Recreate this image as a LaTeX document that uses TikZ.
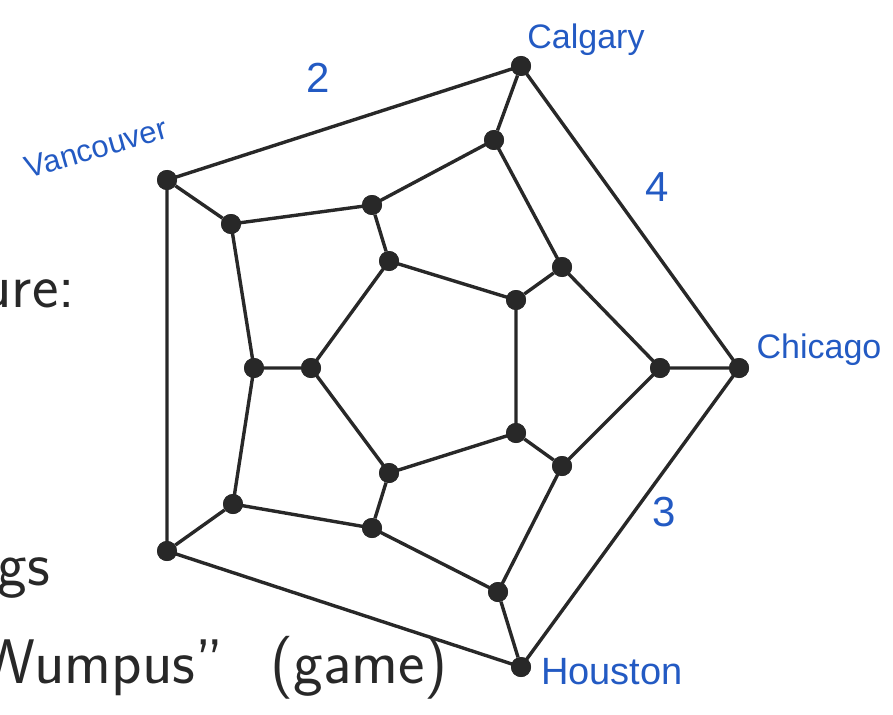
\documentclass[tikz,border=0pt]{standalone}
\usepackage{fontspec}
\newfontfamily\handfont{Liberation Sans}
\definecolor{inkblue}{RGB}{35,90,195}
\definecolor{ink}{RGB}{40,40,40}
\begin{document}
\begin{tikzpicture}[x=1pt,y=-1pt,
  vtx/.style={circle,fill=ink,inner sep=0pt,minimum size=20pt},
  edge/.style={draw=ink,line width=3.4pt},
  hand/.style={text=inkblue,font=\handfont\fontsize{34}{38}\selectfont},
  slide/.style={text=ink,font=\sffamily\fontsize{63}{70}\selectfont,inner sep=0pt}]
\useasboundingbox (0,0) rectangle (893,714);
\clip (0,0) rectangle (893,714);
% background slide text
\node[slide,anchor=base east] (t1) at (75,307) {ure:};
\node[slide,anchor=base east] (t2) at (50,585) {gs};
\node[slide,anchor=base east] (t3) at (448,683) {Wumpus''\hspace{0.75em}(game)};
% outer pentagon
\node[vtx] (o1) at (521,66) {};
\node[vtx] (o2) at (739,368) {};
\node[vtx] (o3) at (521,667) {};
\node[vtx] (o4) at (167,551) {};
\node[vtx] (o5) at (167,180) {};
% middle ring
\node[vtx] (m1) at (494,140) {};
\node[vtx] (m2) at (562,267) {};
\node[vtx] (m3) at (660,368) {};
\node[vtx] (m4) at (562,466) {};
\node[vtx] (m5) at (498,592) {};
\node[vtx] (m6) at (372,528) {};
\node[vtx] (m7) at (233,504) {};
\node[vtx] (m8) at (254,368) {};
\node[vtx] (m9) at (231,224) {};
\node[vtx] (m10) at (372,205) {};
% inner pentagon
\node[vtx] (i1) at (516,300) {};
\node[vtx] (i2) at (516,433) {};
\node[vtx] (i3) at (389,473) {};
\node[vtx] (i4) at (311,368) {};
\node[vtx] (i5) at (389,261) {};
\draw[edge] (o1.center)--(o2.center)--(o3.center)--(o4.center)--(o5.center)--cycle;
\draw[edge] (o1)--(m1) (o2)--(m3) (o3)--(m5) (o4)--(m7) (o5)--(m9);
\draw[edge] (m1.center)--(m2.center)--(m3.center)--(m4.center)--(m5.center)--(m6.center)--(m7.center)--(m8.center)--(m9.center)--(m10.center)--cycle;
\draw[edge] (m2)--(i1) (m4)--(i2) (m6)--(i3) (m8)--(i4) (m10)--(i5);
\draw[edge] (i1.center)--(i2.center)--(i3.center)--(i4.center)--(i5.center)--cycle;
% redraw dots on top
\foreach \n in {o1,o2,o3,o4,o5,m1,m2,m3,m4,m5,m6,m7,m8,m9,m10,i1,i2,i3,i4,i5}
  \fill[ink] (\n.center) circle (10pt);
% handwritten labels
\node[hand] (lcal) at (586,40) {Calgary};
\node[hand,rotate=16,font=\handfont\fontsize{31}{34}\selectfont] (lvan) at (96,148) {Vancouver};
\node[hand] (lchi) at (819,350) {Chicago};
\node[hand,font=\handfont\fontsize{38}{42}\selectfont] (lhou) at (612,672) {Houston};
\node[hand,font=\handfont\fontsize{42}{46}\selectfont] (n2) at (318,78) {2};
\node[hand,font=\handfont\fontsize{42}{46}\selectfont] (n4) at (657,187) {4};
\node[hand,font=\handfont\fontsize{42}{46}\selectfont] (n3) at (664,512) {3};
\end{tikzpicture}
\end{document}
